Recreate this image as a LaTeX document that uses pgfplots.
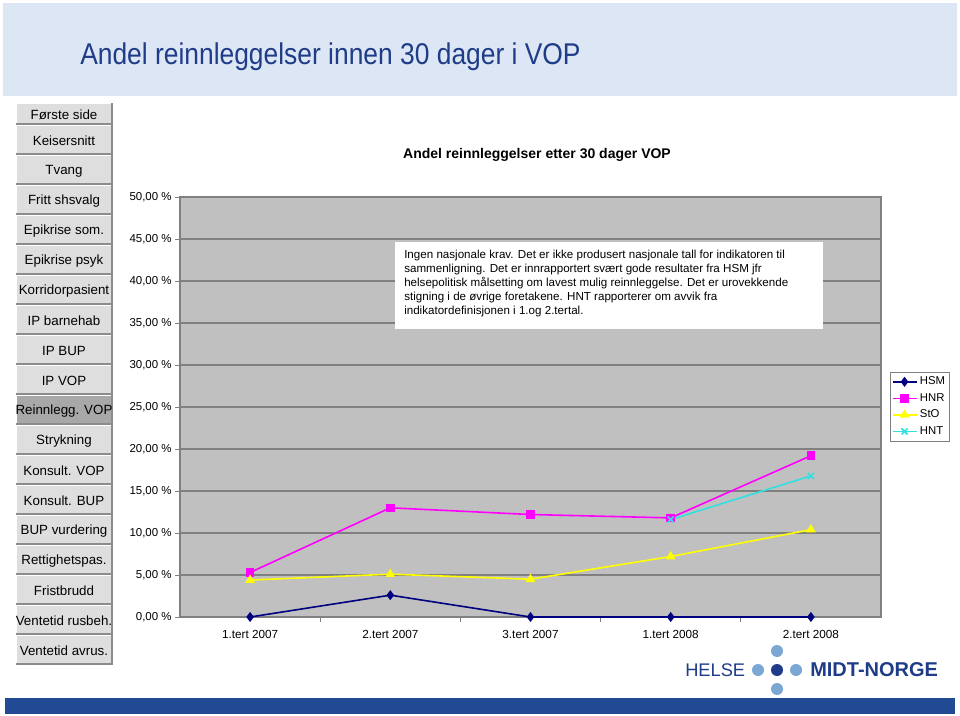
\documentclass[border=0pt]{standalone}
\usepackage{fontspec}
\setmainfont{Liberation Sans}
\usepackage{pgfplots}
\pgfplotsset{compat=1.18}

\definecolor{band}{RGB}{220,230,244}
\definecolor{titleblue}{RGB}{31,60,136}
\definecolor{barblue}{RGB}{34,74,148}
\definecolor{lightdot}{RGB}{123,167,212}
\definecolor{btn}{RGB}{222,222,222}
\definecolor{btnsel}{RGB}{168,168,168}
\definecolor{btnedge}{RGB}{140,140,140}
\definecolor{plotbg}{RGB}{192,192,192}
\definecolor{gridc}{RGB}{128,128,128}
\definecolor{hsm}{RGB}{0,0,128}
\definecolor{hnr}{RGB}{255,0,255}
\definecolor{sto}{RGB}{255,255,0}
\definecolor{hnt}{RGB}{51,224,224}

\begin{document}
\begin{tikzpicture}
% slide background, pixel coordinates (y downwards)
\begin{scope}[x=0.75pt,y=-0.75pt]
  \fill[white] (0,0) rectangle (960,716);
  \useasboundingbox (0,0) rectangle (960,716);
  \fill[band] (3,3) rectangle (957,96);
  \node[anchor=west, text=titleblue, inner sep=0] at (80,57)
    {\scalebox{0.88}[1]{\fontsize{22.5}{27}\selectfont Andel reinnleggelser innen 30 dager i VOP}};

  % navigation buttons
  \foreach \t/\a/\b/\c in {Første side/103/125/btn, Keisersnitt/125/155/btn,
      Tvang/155/185/btn, Fritt shsvalg/185/215/btn, Epikrise som./215/245/btn,
      Epikrise psyk/245/275/btn, Korridorpasient/275/305/btn, IP barnehab/305/335/btn,
      IP BUP/335/365/btn, IP VOP/365/395/btn, Reinnlegg. VOP/395/425/btnsel,
      Strykning/425/455/btn, Konsult. VOP/455/485/btn, Konsult. BUP/485/515/btn,
      BUP vurdering/515/545/btn, Rettighetspas./545/575/btn, Fristbrudd/575/605/btn,
      Ventetid rusbeh./605/635/btn, Ventetid avrus./635/665/btn} {
    \fill[\c] (16,\a) rectangle (112,\b);
    \draw[white, line width=0.75pt] (16.5,\b-1) -- (16.5,\a+0.5) -- (111,\a+0.5);
    \draw[btnedge, line width=1.2pt] (16,\b-0.8) -- (112,\b-0.8) -- (112,\a);
    \node[font=\fontsize{10}{12}\selectfont, inner sep=0] at (64,{(\a+\b)/2+1}) {\t};
  }

  % chart title
  \node[font=\bfseries\fontsize{10.5}{12}\selectfont, anchor=base, inner sep=0] at (537,159)
    {Andel reinnleggelser etter 30 dager VOP};
\end{scope}

\begin{axis}[
  at={(135pt,-462.75pt)}, anchor=south west,
  width=525.75pt, height=315pt, scale only axis,
  xmin=-0.5, xmax=4.5, ymin=0, ymax=50,
  clip=false,
  axis background/.style={fill=plotbg},
  axis line style={draw=gridc, line width=0.9pt},
  ymajorgrids, major grid style={draw=gridc, line width=0.9pt},
  xtick pos=bottom, ytick pos=left,
  tick align=outside, major tick length=3.75pt,
  ytick={0,5,...,50},
  yticklabel={\pgfmathprintnumber[fixed,fixed zerofill,precision=2,use comma]{\tick}~\%},
  /pgf/number format/assume math mode=true,
  yticklabel style={font=\fontsize{8.6}{10}\selectfont, xshift=1pt},
  ytick style={draw=gridc, line width=0.75pt},
  xtick={0,1,2,3,4},
  xticklabels={1.tert 2007,2.tert 2007,3.tert 2007,1.tert 2008,2.tert 2008},
  xticklabel style={font=\fontsize{8.8}{10}\selectfont, yshift=-3pt},
  x tick style={draw=none},
  extra x ticks={0.5,1.5,2.5,3.5},
  extra x tick labels={},
  extra x tick style={x tick style={draw=gridc, line width=0.75pt}, grid=none},
  legend style={at={(1.013,0.501)}, anchor=west, draw=gridc, fill=white,
    font=\fontsize{8.5}{10}\selectfont, inner xsep=1pt, inner ysep=1.5pt,
    row sep=1pt, cells={anchor=west}},
  legend image code/.code={\draw[mark repeat=2,mark phase=2,#1]
    plot coordinates {(0pt,0pt) (9pt,0pt) (18pt,0pt)};},
  every axis plot/.append style={line width=1.2pt},
]
\addplot[hsm, mark=diamond*, mark size=2.8pt] coordinates {(0,0) (1,2.6) (2,0) (3,0) (4,0)};
\addplot[hnr, mark=square*, mark size=2.6pt] coordinates {(0,5.3) (1,13.0) (2,12.2) (3,11.8) (4,19.2)};
\addplot[sto, mark=triangle*, mark size=3pt] coordinates {(0,4.4) (1,5.1) (2,4.5) (3,7.2) (4,10.4)};
\addplot[hnt, mark=x, mark size=3.2pt] coordinates {(3,11.6) (4,16.8)};
\legend{HSM,HNR,StO,HNT}
\end{axis}

\begin{scope}[x=0.75pt,y=-0.75pt]
  % comment box
  \fill[white] (395,242) rectangle (823,329);
  \begin{scope}[every node/.style={anchor=base west, inner sep=0, font=\fontsize{8.7}{10}\selectfont}]
    \node at (404,258.5) {Ingen nasjonale krav. Det er ikke produsert nasjonale tall for indikatoren til};
    \node at (404,272.6) {sammenligning. Det er innrapportert svært gode resultater fra HSM jfr};
    \node at (404,286.7) {helsepolitisk målsetting om lavest mulig reinnleggelse. Det er urovekkende};
    \node at (404,300.8) {stigning i de øvrige foretakene. HNT rapporterer om avvik fra};
    \node at (404,315) {indikatordefinisjonen i 1.og 2.tertal.};
  \end{scope}

  % logo and bottom bar
  \fill[lightdot] (758,670) circle (6);
  \fill[lightdot] (796,670) circle (6);
  \fill[lightdot] (777,651) circle (6);
  \fill[lightdot] (777,689) circle (6);
  \fill[titleblue] (777,670) circle (6);
  \node[anchor=west, inner sep=0, text=titleblue, font=\fontsize{13.7}{16}\selectfont] at (685,670) {HELSE};
  \node[anchor=west, inner sep=0, text=titleblue, font=\bfseries\fontsize{15}{18}\selectfont] at (810,670) {MIDT-NORGE};
  \fill[barblue] (5,698) rectangle (955,714);
\end{scope}
\end{tikzpicture}
\end{document}
